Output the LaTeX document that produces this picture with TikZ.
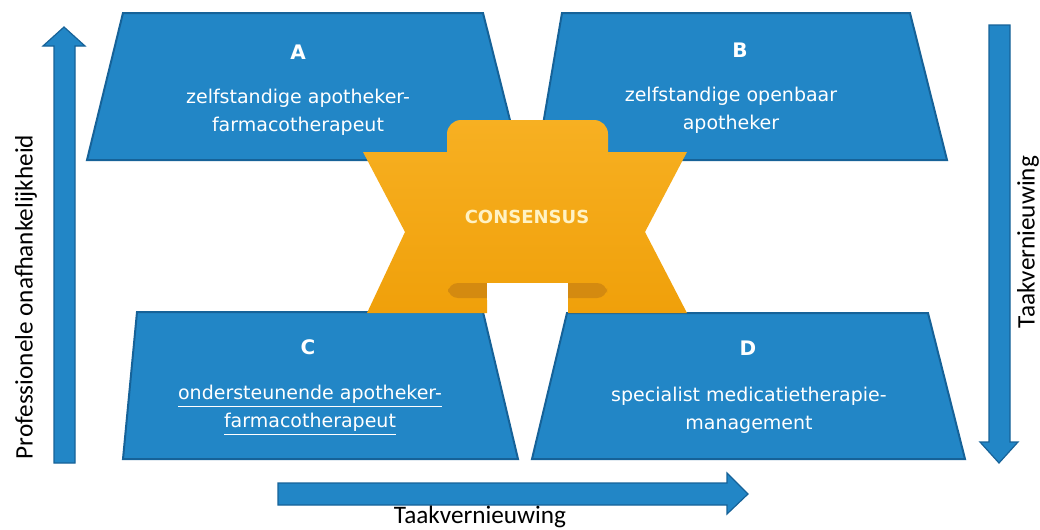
\documentclass[tikz,border=0pt]{standalone}
\usepackage{fontspec}
\newfontfamily\boxfont{DejaVu Sans}
\newfontfamily\axisfont{Carlito}

\definecolor{kwblue}{RGB}{34,134,198}
\definecolor{kwedge}{RGB}{22,98,152}
\definecolor{kworange}{RGB}{247,176,34}
\definecolor{kworangelow}{RGB}{240,160,10}
\definecolor{kwfold}{RGB}{212,138,16}
\definecolor{kwcream}{RGB}{255,242,196}

\begin{document}
\begin{tikzpicture}[%
    x=0.5pt,
    y=-0.5pt,
    quadrant/.style={fill=kwblue, draw=kwedge, line width=1pt},
    bigarrow/.style={fill=kwblue, draw=kwedge, line width=0.6pt},
    letter/.style={text=white, font=\boxfont\bfseries\fontsize{10}{12}\selectfont},
    boxtext/.style={text=white, align=center, font=\boxfont\fontsize{9.5}{14}\selectfont},
    axislabel/.style={text=black, inner sep=0pt, font=\axisfont\fontsize{12.6}{14}\selectfont}
  ]
  \useasboundingbox (0,0) rectangle (1040,530);

  % the four quadrants
  \draw[quadrant] (123,13) -- (483,13) -- (520,160) -- (87,160) -- cycle;
  \draw[quadrant] (562,13) -- (910,13) -- (947,160) -- (537,160) -- cycle;
  \draw[quadrant] (137,312) -- (483,312) -- (518,459) -- (123,459) -- cycle;
  \draw[quadrant] (567,313) -- (928,313) -- (965,459) -- (532,459) -- cycle;

  % axis arrows
  \draw[bigarrow] (54,463) -- (54,46) -- (43,46) -- (64,27) -- (85,46) -- (75,46) -- (75,463) -- cycle;
  \draw[bigarrow] (989,25) -- (1010,25) -- (1010,442) -- (1018,442) -- (999,463) -- (980,442) -- (989,442) -- cycle;
  \draw[bigarrow] (278,483) -- (727,483) -- (727,473) -- (748,494) -- (727,514) -- (727,505) -- (278,505) -- cycle;

  % consensus ribbon
  \shade[top color=kworange, bottom color=kworangelow]
    (363,152) -- (687,152) -- (645,232) -- (687,313) -- (568,313) -- (568,283)
    -- (487,283) -- (487,313) -- (367,313) -- (405,232) -- cycle
    [rounded corners=7] (447,160) -- (447,120) -- (608,120) -- (608,160);
  \fill[kwfold, rounded corners=5] (448,283) rectangle (607,298);
  \fill[white] (487,283) rectangle (568,300);
  \node[text=kwcream, font=\boxfont\bfseries\fontsize{9}{11}\selectfont] (consensus) at (527,217) {CONSENSUS};

  \node[letter] (letterA) at (298,52) {A};
  \node[boxtext] (textA) at (298,112) {zelfstandige apotheker-\\farmacotherapeut};
  \node[letter] (letterB) at (740,50) {B};
  \node[boxtext] (textB) at (731,110) {zelfstandige openbaar\\apotheker};
  \node[letter] (letterC) at (308,347) {C};
  \node[boxtext] (textC) at (310,410) {\underline{ondersteunende apotheker-}\\\underline{farmacotherapeut}};
  \node[letter] (letterD) at (748,348) {D};
  \node[boxtext] (textD) at (749,410) {specialist medicatietherapie-\\management};

  \node[axislabel, rotate=90] (independence) at (26,297) {Professionele onafhankelijkheid};
  \node[axislabel, rotate=90] (renewright) at (1028,242) {Taakvernieuwing};
  \node[axislabel, anchor=north] (renewbottom) at (480,506) {Taakvernieuwing};
\end{tikzpicture}
\end{document}
